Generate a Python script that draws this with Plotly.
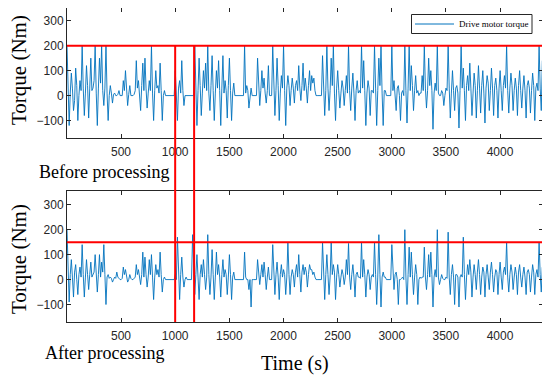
import plotly.graph_objects as go

# time axis (s), sampled every 10 s
time_s = list(range(1, 4392, 10))

# Drive motor torque before processing (Nm)
torque_before = [
    200, 20, -120, 10, 90, 30, -60, -20, 110, 40, -100, 0, 60, 20, 200, 30, -80, 10, 120, 40,
    -90, 30, 150, 20, 30, 60, 200, 10, -120, 30, 150, 50, 200, 20, -40, 30, 200, 10, -100, 0,
    40, 10, -30, 5, 10, 0, 0, 5, 20, 0, 0, 0, 60, 20, 100, 10, -40, 5, 40, 0,
    0, 0, 5, 20, 140, 30, 60, 10, -60, 40, 130, 20, 150, 30, -50, 10, 60, 20, 200, 10,
    -100, 20, 100, 30, 40, 10, 130, 20, -100, 0, 20, 0, 0, 0, 0, 0, 0, 0, 0, 0,
    100, 20, -100, 30, 60, 10, 140, 20, -40, 0, 0, 0, 0, 0, 0, 0, 0, 0, 200, 30,
    -120, 20, 150, 40, -80, 10, 100, 30, 130, 20, 200, 10, -60, 40, 160, 20, -100, 10, 100, 30,
    140, 20, -120, 30, 160, 10, 60, 20, -90, 40, 150, 20, -100, 10, 50, 0, 0, 0, 0, 0,
    0, 0, 0, 0, 200, 10, 40, 20, -50, 0, 30, 0, 0, 0, 0, 0, 150, 30, -40, 20,
    100, 30, 70, 10, -30, 20, 120, 0, 0, 0, 200, 30, -80, 20, 150, 40, -100, 10, 80, 30,
    200, 20, -120, 30, 80, 40, -40, 20, 70, 30, -30, 40, 60, 20, 120, 30, -20, 40, 130, 20,
    70, 30, -30, 40, 100, 20, 80, 50, 70, 20, 0, 0, 0, 0, 0, 0, 160, 30, -80, 20,
    200, 30, -60, 20, 150, 40, 200, 10, -100, 30, 100, 20, -50, 10, 60, 30, -40, 20, 80, 10,
    200, 20, -60, 30, 90, 10, -100, 20, 60, 10, 20, 10, 200, 30, 140, 20, -120, 10, 60, 30,
    -80, 20, 20, 10, 200, 30, -120, 20, 150, 40, 200, 10, -120, 20, 20, 0, 0, 0, 0, 0,
    200, 20, 60, 10, -60, 30, 40, 0, -100, 10, 20, 0, 200, 20, -110, 30, 200, 20, 120, 40,
    -60, 20, 80, 10, 20, 0, 10, 10, 80, 20, 200, 30, -50, 20, 150, 40, 100, 20, -135, 10,
    50, 20, 200, 10, 0, 0, 20, 10, -40, 0, 30, 20, 200, 30, -90, 10, 100, 20, -60, 30,
    40, 10, -130, 20, 200, 30, 110, 20, -100, 40, 80, 20, 130, 30, -80, 10, 90, 40, -90, 20,
    120, 30, -70, 40, 100, 10, -110, 30, 80, 50, -60, 20, 110, 30, -80, 40, 70, 20, -90, 30,
    100, 20, -60, 40, 80, 30, 200, 20, -70, 30, 90, 40, -60, 20, 70, 30, -80, 40, 100, 20,
    -50, 30, 80, 20, -90, 40, 60, 30, -70, 20, 90, 40, -100, 30, 50, 20, 200, 30, -60, 140,
]

# Drive motor torque after processing (Nm)
torque_after = [
    200, 10, -90, 20, 80, 10, -70, 30, 60, 0, -60, 20, 50, 10, 140, 20, -70, 10, 80, 20,
    -40, 20, 70, 10, 20, 30, 100, 10, -50, 20, 100, 10, 70, 30, 140, 20, -100, 10, 20, 5,
    10, 5, -10, 0, 10, 5, 30, 10, 5, 0, 0, 5, 50, 20, 40, 10, -10, 0, 20, 5,
    0, 0, 5, 10, 60, 20, 40, 10, -20, 20, 110, 10, 90, 20, -30, 10, 80, 20, 100, 10,
    -80, 10, 60, 20, 40, 10, 110, 20, -50, 0, 10, 0, 0, 0, 0, 0, 0, 0, 0, 0,
    20, 0, 170, 10, -80, 20, 90, 10, -30, 0, 10, 0, 0, 0, 0, 0, 180, 10, -60, 20,
    100, 10, -80, 20, 60, 10, 80, 20, -40, 10, 180, 20, -60, 10, 120, 20, -80, 10, 110, 20,
    60, 10, -70, 20, 80, 10, 40, 20, -60, 10, 100, 20, -80, 10, 30, 0, 0, 0, 0, 0,
    0, 0, 0, 0, 110, 10, 0, 0, -40, 0, -110, 0, 0, 0, 0, 0, 80, 10, -20, 20,
    60, 10, 70, 20, -40, 10, 50, 0, 0, 0, 140, 10, -60, 20, 70, 10, -80, 20, 60, 10,
    40, 20, -60, 10, 150, 20, -60, 10, 40, 20, -30, 30, 60, 10, 100, 20, -50, 30, 60, 20,
    50, 30, -30, 20, 60, 40, 40, 20, 30, 10, 0, 0, 0, 0, 0, 0, 150, 10, -80, 20,
    100, 20, -60, 10, 150, 20, 60, 30, -80, 10, 60, 20, -30, 10, 40, 20, -20, 10, 80, 20,
    145, 10, -40, 20, 60, 10, -70, 20, 30, 10, 10, 5, 150, 10, 80, 20, -70, 10, 40, 20,
    -40, 10, 20, 10, 150, 20, -100, 10, 180, 20, -110, 10, 30, 10, 10, 0, 0, 0, 0, 0,
    140, 10, -40, 20, 30, 0, -100, 0, 0, 5, 10, 0, 200, 10, -100, 20, 130, 10, 110, 20,
    -60, 10, 60, 20, -100, 0, 10, 5, 10, 10, 130, 10, -40, 20, 100, 10, 110, 20, -110, 10,
    40, 10, 200, 10, -20, 0, 20, 5, 0, 0, 10, 5, 190, 10, -60, 20, 60, 10, -100, 20,
    20, 10, -110, 10, 20, 10, 170, 20, -80, 10, 60, 20, 80, 30, -70, 10, 60, 20, -40, 30,
    80, 20, -60, 10, 50, 30, -70, 20, 60, 10, -40, 30, 70, 20, -50, 10, 40, 30, -60, 20,
    70, 10, -40, 30, 50, 20, 150, 10, -50, 20, 60, 30, -40, 10, 50, 20, -60, 30, 60, 10,
    -30, 20, 50, 10, -60, 30, 40, 20, -50, 10, 60, 30, -60, 20, 40, 10, 150, 20, -50, 50,
]

x_ticks = [500, 1000, 1500, 2000, 2500, 3000, 3500, 4000]
y_ticks = [-100, 0, 100, 200, 300]
threshold_before = 200
threshold_after = 150
marker_times = [1000, 1175]
legend_label = "Drive motor torque"

# page body has an 8 px margin; lay out in window pixels
OFF = 8
W, H = 550 - OFF, 381 - OFF
def py(p):  # window pixel from top -> paper
    return min(1.0, max(0.0, 1 - (p - OFF) / H))
def px(p):
    return min(1.0, max(0.0, (p - OFF) / W))

x0, x1 = px(67), px(543)
top_dom = [py(138), py(8)]
bot_dom = [py(322), py(191)]
x_range = [1, 4397]
y_range_top = [-170, 351]
y_range_bot = [-170, 355]

BLUE = "#0072BD"
RED = "#FF0000"
AX = "#262626"
SERIF = "Liberation Serif, Times New Roman, serif"
SANS = "Liberation Sans, Arial, sans-serif"

fig = go.Figure()
fig.add_trace(go.Scatter(x=time_s, y=torque_before, mode="lines",
                         line=dict(color=BLUE, width=0.9), name=legend_label,
                         showlegend=False, xaxis="x", yaxis="y"))
fig.add_trace(go.Scatter(x=time_s, y=torque_after, mode="lines",
                         line=dict(color=BLUE, width=0.9), showlegend=False,
                         xaxis="x2", yaxis="y2"))

axis_common = dict(showline=True, linecolor=AX, linewidth=1, mirror="ticks",
                   ticks="inside", ticklen=4, tickcolor=AX, showgrid=False,
                   zeroline=False, tickfont=dict(family=SANS, size=12, color=AX))

fig.update_layout(
    width=W, height=H, margin=dict(l=0, r=0, t=0, b=0),
    paper_bgcolor="white", plot_bgcolor="white",
    xaxis=dict(domain=[x0, x1], anchor="y", range=x_range, tickvals=x_ticks,
               ticklabelstandoff=3, **axis_common),
    yaxis=dict(domain=top_dom, anchor="x", range=y_range_top, tickvals=y_ticks, **axis_common),
    xaxis2=dict(domain=[x0, x1], anchor="y2", range=x_range, tickvals=x_ticks,
                ticklabelstandoff=3, **axis_common),
    yaxis2=dict(domain=bot_dom, anchor="x2", range=y_range_bot, tickvals=y_ticks, **axis_common),
    showlegend=False,
)

# red threshold lines
fig.add_shape(type="line", xref="paper", yref="y", x0=x0, x1=x1,
              y0=threshold_before, y1=threshold_before, line=dict(color=RED, width=2))
fig.add_shape(type="line", xref="paper", yref="y2", x0=x0, x1=px(547),
              y0=threshold_after, y1=threshold_after, line=dict(color=RED, width=2))
top_200 = top_dom[0] + (threshold_before - y_range_top[0]) / (y_range_top[1] - y_range_top[0]) * (top_dom[1] - top_dom[0])
for t in marker_times:
    fig.add_shape(type="line", xref="x", yref="paper", x0=t, x1=t,
                  y0=bot_dom[0], y1=top_200, line=dict(color=RED, width=2))

# legend box (MATLAB style)
fig.add_shape(type="rect", xref="paper", yref="paper", x0=px(411.5), x1=px(532),
              y0=py(33.5), y1=py(14.5), line=dict(color=AX, width=1), fillcolor="white")
fig.add_shape(type="line", xref="paper", yref="paper", x0=px(415), x1=px(454),
              y0=py(24), y1=py(24), line=dict(color=BLUE, width=1))
fig.add_annotation(text=legend_label, x=px(457), y=py(24), xref="paper", yref="paper",
                   xanchor="left", yanchor="middle", showarrow=False,
                   font=dict(family=SERIF, size=9, color="black"))

ann = [
    dict(text="Torque (Nm)", x=px(19), y=py(70), textangle=-90, size=21),
    dict(text="Torque (Nm)", x=px(19), y=py(259), textangle=-90, size=21),
    dict(text="Before processing", x=px(104), y=py(172), textangle=0, size=18),
    dict(text="After processing", x=px(104), y=py(353), textangle=0, size=18),
    dict(text="Time (s)", x=px(295), y=py(363), textangle=0, size=20),
]
for a in ann:
    fig.add_annotation(text=a["text"], x=a["x"], y=a["y"], xref="paper", yref="paper",
                       xanchor="center", yanchor="middle", showarrow=False,
                       textangle=a["textangle"], font=dict(family=SERIF, size=a["size"], color="black"))

fig.write_html("out.html")
